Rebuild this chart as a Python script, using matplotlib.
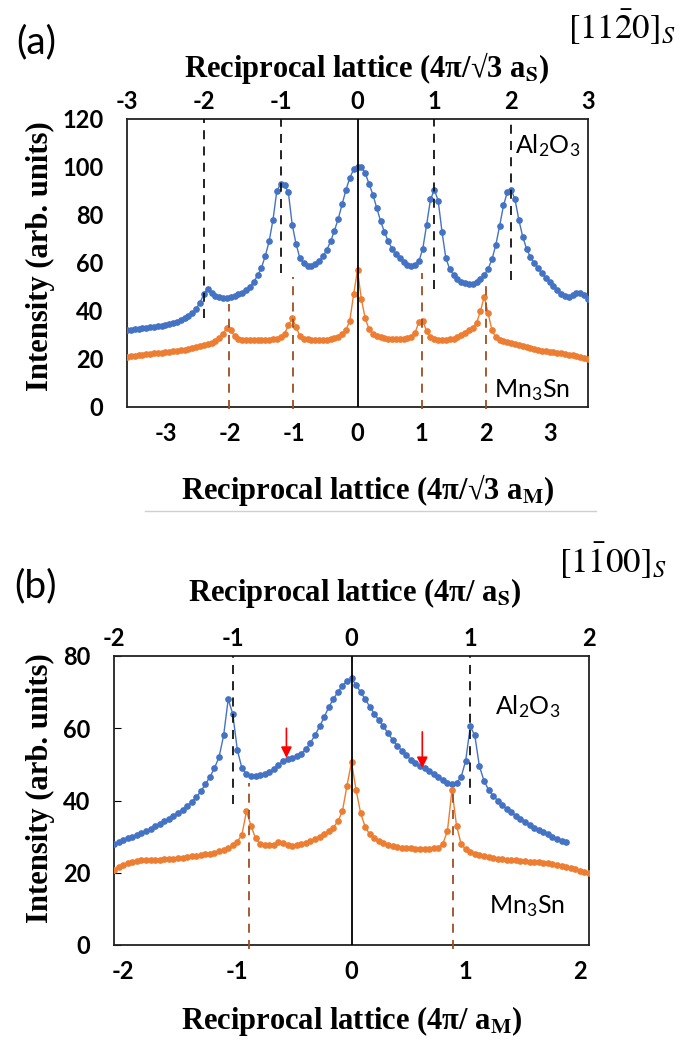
import matplotlib
matplotlib.use('Agg')
import matplotlib.pyplot as plt
from matplotlib.lines import Line2D

plt.rcParams['axes.unicode_minus'] = False
plt.rcParams['mathtext.fontset'] = 'custom'
plt.rcParams['mathtext.rm'] = 'Lato'
plt.rcParams['mathtext.it'] = 'Lato:italic'
plt.rcParams['mathtext.bf'] = 'Lato:bold'

W, H = 683, 1043

# ---------------- panel (a) data : [11-20] scan ----------------
xa = [-3.60, -3.54, -3.48, -3.42, -3.36, -3.30, -3.24, -3.18, -3.12, -3.06,
      -3.00, -2.94, -2.88, -2.82, -2.76, -2.70, -2.64, -2.58, -2.52, -2.46,
      -2.40, -2.34, -2.28, -2.22, -2.16, -2.10, -2.04, -1.98, -1.92, -1.86,
      -1.80, -1.74, -1.68, -1.62, -1.56, -1.50, -1.44, -1.38, -1.32, -1.26,
      -1.20, -1.14, -1.08, -1.02, -0.96, -0.90, -0.84, -0.78, -0.72, -0.66,
      -0.60, -0.54, -0.48, -0.42, -0.36, -0.30, -0.24, -0.18, -0.12, -0.06,
      0.00, 0.06, 0.12, 0.18, 0.24, 0.30, 0.36, 0.42, 0.48, 0.54,
      0.60, 0.66, 0.72, 0.78, 0.84, 0.90, 0.96, 1.02, 1.08, 1.14,
      1.20, 1.26, 1.32, 1.38, 1.44, 1.50, 1.56, 1.62, 1.68, 1.74,
      1.80, 1.86, 1.92, 1.98, 2.04, 2.10, 2.16, 2.22, 2.28, 2.34,
      2.40, 2.46, 2.52, 2.58, 2.64, 2.70, 2.76, 2.82, 2.88, 2.94,
      3.00, 3.06, 3.12, 3.18, 3.24, 3.30, 3.36, 3.42, 3.48, 3.54, 3.60]

al2o3_a = [32.0, 32.2, 32.4, 32.6, 32.8, 33.0, 33.2, 33.4, 33.6, 33.8,
           34.1, 34.5, 35.0, 35.5, 36.2, 37.0, 37.8, 39.0, 41.0, 43.5,
           47.0, 49.3, 47.5, 46.2, 45.7, 45.5, 45.6, 45.9, 46.3, 46.9,
           47.7, 48.8, 50.2, 52.2, 54.8, 58.0, 63.0, 69.0, 78.0, 90.0,
           93.0, 92.5, 89.5, 76.0, 68.0, 62.0, 59.8, 58.6, 58.7, 59.5,
           60.8, 62.8, 65.5, 69.0, 73.5, 78.5, 84.5, 90.5, 95.5, 99.0,
           100.0, 100.0, 97.5, 93.0, 88.5, 83.0, 77.5, 73.0, 69.0, 66.0,
           63.8, 62.0, 60.5, 59.3, 58.8, 59.0, 60.8, 66.0, 76.0, 86.5,
           90.5, 86.0, 73.0, 62.0, 57.5, 55.0, 53.3, 52.2, 51.5, 51.2,
           51.4, 52.2, 53.3, 55.0, 57.6, 61.5, 67.5, 75.5, 84.0, 89.5,
           90.5, 86.5, 78.0, 71.0, 66.0, 62.5, 60.0, 57.8, 55.8, 53.8,
           52.0, 50.3, 48.6, 47.2, 46.3, 46.0, 46.5, 47.3, 47.5, 46.5, 45.0]

mn3sn_a = [21.0, 21.2, 21.4, 21.6, 21.8, 22.0, 22.1, 22.3, 22.5, 22.6,
           22.8, 23.0, 23.2, 23.4, 23.6, 23.9, 24.2, 24.5, 24.9, 25.3,
           25.7, 26.2, 26.8, 27.6, 28.8, 30.5, 33.0, 32.0, 29.5, 28.4,
           28.0, 27.9, 27.8, 27.8, 27.8, 27.9, 28.0, 28.0, 28.2, 28.5,
           29.0, 30.5, 34.0, 37.0, 33.5, 29.5, 28.5, 28.2, 28.0, 28.0,
           28.0, 28.0, 28.1, 28.3, 28.7, 29.3, 30.3, 32.0, 36.0, 47.0,
           57.0, 45.0, 37.0, 32.5, 30.5, 29.5, 29.0, 28.7, 28.5, 28.3,
           28.2, 28.2, 28.3, 28.6, 29.2, 31.0, 35.5, 36.0, 31.5, 29.0,
           28.3, 28.0, 28.0, 28.0, 28.2, 28.5, 29.0, 29.8, 30.8, 32.0,
           33.0, 35.0, 40.0, 46.0, 39.0, 32.0, 29.0, 28.0, 27.5, 27.0,
           26.6, 26.2, 25.8, 25.4, 25.0, 24.6, 24.2, 23.8, 23.5, 23.2,
           23.0, 22.8, 22.6, 22.3, 22.0, 21.8, 21.5, 21.2, 21.0, 20.6, 20.2]

# reference lines (a): Al2O3 orders on top scale, Mn3Sn orders on bottom scale
al_lines_a = [-2, -1, 1, 2]
al_lines_a_end = [37, 56, 49, 53]
mn_lines_a = [-2, -1, 1, 2]
mn_lines_a_end = [43, 54, 56, 53]

# ---------------- panel (b) data : [1-100] scan ----------------
xb_al = [-2.08, -2.04, -2.00, -1.96, -1.92, -1.88, -1.84, -1.80, -1.76, -1.72,
         -1.68, -1.64, -1.60, -1.56, -1.52, -1.48, -1.44, -1.40, -1.36, -1.32,
         -1.28, -1.24, -1.20, -1.16, -1.12, -1.08, -1.04, -1.00, -0.96, -0.92,
         -0.88, -0.84, -0.80, -0.76, -0.72, -0.68, -0.64, -0.60, -0.56, -0.52,
         -0.48, -0.44, -0.40, -0.36, -0.32, -0.28, -0.24, -0.20, -0.16, -0.12,
         -0.08, -0.04, 0.00, 0.04, 0.08, 0.12, 0.16, 0.20, 0.24, 0.28,
         0.32, 0.36, 0.40, 0.44, 0.48, 0.52, 0.56, 0.60, 0.64, 0.68,
         0.72, 0.76, 0.80, 0.84, 0.88, 0.92, 0.96, 1.00, 1.04, 1.08,
         1.12, 1.16, 1.20, 1.24, 1.28, 1.32, 1.36, 1.40, 1.44, 1.48,
         1.52, 1.56, 1.60, 1.64, 1.68, 1.72, 1.76, 1.80, 1.84, 1.88]

al2o3_b = [28.0, 28.5, 29.0, 29.5, 30.0, 30.5, 31.0, 31.5, 32.2, 32.9,
           33.6, 34.3, 35.0, 35.8, 36.6, 37.5, 38.5, 39.6, 40.9, 42.5,
           44.5, 46.5, 49.0, 52.0, 58.0, 68.0, 64.0, 54.0, 49.0, 47.3,
           46.8, 46.8, 47.0, 47.4, 48.0, 48.8, 49.8, 50.8, 51.5, 51.8,
           52.2, 53.0, 54.2, 56.0, 58.0, 60.5, 63.0, 65.8, 68.0, 70.0,
           71.8, 73.0, 73.8, 72.0, 70.0, 68.0, 66.0, 64.0, 62.2, 60.5,
           58.6, 56.8, 55.2, 53.8, 52.5, 51.3, 50.3, 49.6, 49.0, 48.2,
           47.3, 46.5, 45.6, 44.9, 44.6, 44.9, 46.5, 51.0, 60.5, 58.0,
           49.5, 45.5, 43.0, 41.3, 40.0, 38.8, 37.7, 36.7, 35.8, 34.9,
           34.0, 33.2, 32.5, 31.8, 31.2, 30.6, 30.0, 29.4, 28.9, 28.4]

xb_mn = [-2.08, -2.04, -2.00, -1.96, -1.92, -1.88, -1.84, -1.80, -1.76, -1.72,
         -1.68, -1.64, -1.60, -1.56, -1.52, -1.48, -1.44, -1.40, -1.36, -1.32,
         -1.28, -1.24, -1.20, -1.16, -1.12, -1.08, -1.04, -1.00, -0.96, -0.92,
         -0.88, -0.84, -0.80, -0.76, -0.72, -0.68, -0.64, -0.60, -0.56, -0.52,
         -0.48, -0.44, -0.40, -0.36, -0.32, -0.28, -0.24, -0.20, -0.16, -0.12,
         -0.08, -0.04, 0.00, 0.04, 0.08, 0.12, 0.16, 0.20, 0.24, 0.28,
         0.32, 0.36, 0.40, 0.44, 0.48, 0.52, 0.56, 0.60, 0.64, 0.68,
         0.72, 0.76, 0.80, 0.84, 0.88, 0.92, 0.96, 1.00, 1.04, 1.08,
         1.12, 1.16, 1.20, 1.24, 1.28, 1.32, 1.36, 1.40, 1.44, 1.48,
         1.52, 1.56, 1.60, 1.64, 1.68, 1.72, 1.76, 1.80, 1.84, 1.88,
         1.92, 1.96, 2.00, 2.04, 2.08]

mn3sn_b = [20.8, 21.5, 22.2, 22.6, 23.0, 23.2, 23.4, 23.5, 23.4, 23.5,
           23.6, 23.7, 23.8, 23.9, 24.0, 24.1, 24.3, 24.5, 24.7, 24.9,
           25.1, 25.3, 25.6, 26.0, 26.4, 26.9, 27.6, 28.6, 30.5, 37.0,
           33.0, 29.5, 28.0, 27.8, 27.6, 27.8, 28.4, 28.2, 27.6, 27.4,
           27.6, 27.9, 28.3, 28.8, 29.4, 30.0, 30.7, 31.5, 32.5, 34.2,
           37.0, 44.0, 50.6, 43.0, 36.5, 32.7, 30.6, 29.5, 28.8, 28.2,
           27.8, 27.4, 27.1, 26.9, 26.8, 26.8, 26.7, 26.7, 26.7, 26.7,
           26.8, 26.9, 28.0, 31.5, 42.9, 33.0, 28.0, 26.5, 25.8, 25.3,
           24.9, 24.6, 24.3, 24.1, 23.9, 23.8, 23.6, 23.5, 23.4, 23.3,
           23.2, 23.1, 23.0, 22.9, 22.8, 22.6, 22.4, 22.2, 22.0, 21.7,
           21.3, 21.0, 20.6, 20.2, 19.8]

al_lines_b = [-1, 1]
al_lines_b_end = [39, 39]
mn_lines_b = [-0.90, 0.89]
mn_lines_b_end = [44.8, 43.0]

# shoulders marked with red arrows (x, tip, tail)
arrows_b = [(-0.57, 51.8, 60.0), (0.62, 49.0, 59.0)]

BLUE = '#4472C4'
ORANGE = '#ED7D31'
BROWN = '#9E4E22'
SERIF = dict(family='Liberation Serif', weight='bold', math_fontfamily='stix')


def fx(x):
    return x / W


def fy(y):
    return 1 - y / H


def panel(rect, xs_top, xs_bot, al_x, al_y, mn_x, mn_y, ymax, yticks,
          top_lim, bot_lim, al_lines, al_end, mn_lines, mn_end, yticklen):
    ax = fig.add_axes(rect)
    ax.plot(al_x, al_y, '-o', color=BLUE, lw=1.0, ms=3.8, zorder=3)
    ax.plot(mn_x, mn_y, '-o', color=ORANGE, lw=1.0, ms=3.8, zorder=3)
    ax.axvline(0, color='black', lw=1.3, zorder=4)
    ax.vlines(mn_lines, -1, mn_end, colors=BROWN, linestyles=(0, (5, 4)),
              lw=1.3, zorder=4, clip_on=False)
    ax.set_xlim(*bot_lim)
    ax.set_ylim(0, ymax)
    ax.set_yticks(yticks)
    ax.set_xticks(xs_bot)
    ax.tick_params(axis='x', length=0, pad=11, labelsize=17)
    ax.tick_params(axis='y', direction='in', length=yticklen, width=0.8,
                   pad=17, labelsize=17)
    for lab in ax.get_xticklabels() + ax.get_yticklabels():
        lab.set_fontfamily('Lato')
        lab.set_fontweight('bold')
    for sp in ax.spines.values():
        sp.set_linewidth(1.3)
        sp.set_color('#222222')

    top = ax.twiny()
    top.set_xlim(*top_lim)
    top.set_xticks(xs_top)
    top.tick_params(axis='x', length=0, pad=4, labelsize=17)
    for lab in top.get_xticklabels():
        lab.set_fontfamily('Lato')
        lab.set_fontweight('bold')
    top.vlines(al_lines, al_end, ymax, colors='#111111',
               linestyles=(0, (5, 4)), lw=1.3, zorder=4)
    for sp in top.spines.values():
        sp.set_visible(False)
    return ax


fig = plt.figure(figsize=(W / 100, H / 100), dpi=100)

# panel (a)
ax_a = panel([fx(127), fy(407), fx(588) - fx(127), fy(119) - fy(407)],
             [-3, -2, -1, 0, 1, 2, 3], [-3, -2, -1, 0, 1, 2, 3],
             xa, al2o3_a, xa, mn3sn_a, 120, [0, 20, 40, 60, 80, 100, 120],
             (-3, 3), (-3.6, 3.6), al_lines_a, al_lines_a_end,
             mn_lines_a, mn_lines_a_end, 0)
fig.text(fx(548), fy(146), r'Al$_2$O$_3$', family='Lato', size=18,
         ha='center', va='center')
fig.text(fx(532), fy(390), r'Mn$_3$Sn', family='Lato', size=18,
         ha='center', va='center')

# panel (b)
ax_b = panel([fx(114), fy(945), fx(589) - fx(114), fy(656) - fy(945)],
             [-2, -1, 0, 1, 2], [-2, -1, 0, 1, 2],
             xb_al, al2o3_b, xb_mn, mn3sn_b, 80, [0, 20, 40, 60, 80],
             (-2, 2), (-2.08, 2.08), al_lines_b, al_lines_b_end,
             mn_lines_b, mn_lines_b_end, 5)
for x, tip, tail in arrows_b:
    ax_b.annotate('', xy=(x, tip), xytext=(x, tail),
                  arrowprops=dict(arrowstyle='-|>', color='red', lw=1.2,
                                  mutation_scale=16, shrinkA=0, shrinkB=0),
                  zorder=6)
fig.text(fx(528), fy(707), r'Al$_2$O$_3$', family='Lato', size=18,
         ha='center', va='center')
fig.text(fx(527), fy(906), r'Mn$_3$Sn', family='Lato', size=18,
         ha='center', va='center')

# axis titles
fig.text(fx(367), fy(68), r'Reciprocal lattice (4π/√3 a$_\mathbf{S}$)',
         size=22, ha='center', va='center', **SERIF)
fig.text(fx(368), fy(490), r'Reciprocal lattice (4π/√3 a$_\mathbf{M}$)',
         size=22, ha='center', va='center', **SERIF)
fig.text(fx(355), fy(593), r'Reciprocal lattice (4π/ a$_\mathbf{S}$)',
         size=22, ha='center', va='center', **SERIF)
fig.text(fx(352), fy(1021), r'Reciprocal lattice (4π/ a$_\mathbf{M}$)',
         size=22, ha='center', va='center', **SERIF)
fig.text(fx(40), fy(256), 'Intensity (arb. units)', size=22, rotation=90,
         ha='center', va='center', **SERIF)
fig.text(fx(40), fy(788), 'Intensity (arb. units)', size=22, rotation=90,
         ha='center', va='center', **SERIF)

# panel labels and zone axes
fig.text(fx(36), fy(42), '(a)', family='Lato', size=28, ha='center', va='center')
fig.text(fx(36), fy(586), '(b)', family='Lato', size=28, ha='center', va='center')
fig.text(fx(622), fy(27), r'$[11\bar{2}0]_S$', size=25, ha='center',
         va='center', math_fontfamily='stix')
fig.text(fx(613), fy(561), r'$[1\bar{1}00]_S$', size=25, ha='center',
         va='center', math_fontfamily='stix')

# faint border left over between the two panels
fig.add_artist(Line2D([fx(145), fx(596)], [fy(511), fy(511)],
                      color='#cfcfcf', lw=1))

fig.savefig('out.png', dpi=100)
